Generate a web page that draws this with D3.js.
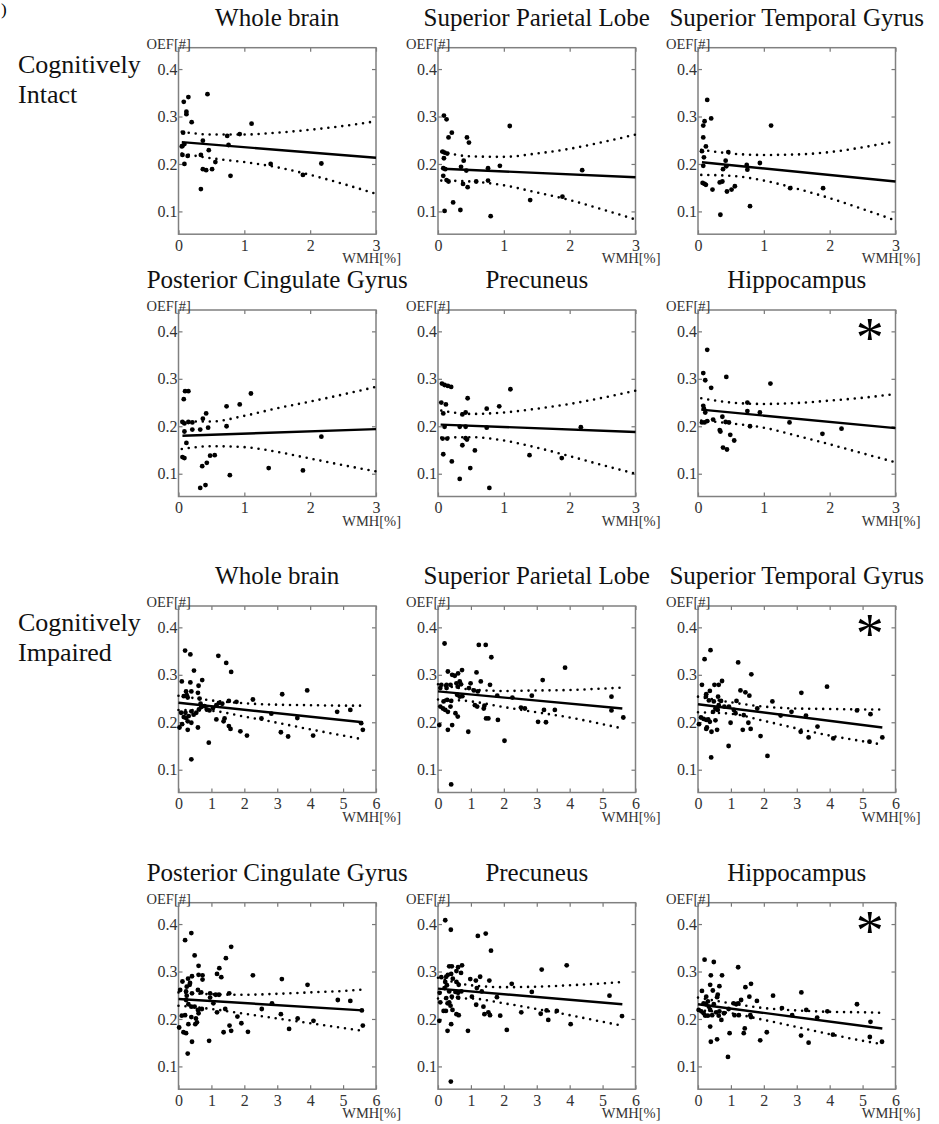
<!DOCTYPE html>
<html>
<head>
<meta charset="utf-8">
<script src="https://cdn.jsdelivr.net/npm/d3@7"></script>
<style>
body { margin: 0; background: #fff; }
text { font-family: "Liberation Serif", "Times New Roman", serif; }
</style>
</head>
<body>
<div id="chart"></div>
<script>
// Region titles, one row of three per block
var titles = ["Whole brain", "Superior Parietal Lobe", "Superior Temporal Gyrus",
              "Posterior Cingulate Gyrus", "Precuneus", "Hippocampus"];
var groups = [["Cognitively", "Intact"], ["Cognitively", "Impaired"]];
var yTicks = [0.1, 0.2, 0.3, 0.4];
var xMax = [3, 6]; // WMH range per group

// Cognitively intact: [WMH %, OEF]
var intactWhole = [[0.08,0.331],[0.15,0.341],[0.12,0.310],[0.12,0.305],[0.20,0.288],[0.44,0.347],[0.07,0.266],[0.06,0.238],[0.09,0.242],[0.05,0.237],[0.06,0.219],[0.14,0.217],[0.09,0.200],[0.37,0.249],[0.34,0.219],[0.46,0.229],[0.37,0.189],[0.42,0.187],[0.51,0.189],[0.56,0.204],[0.34,0.147],[0.74,0.259],[0.76,0.240],[0.79,0.175],[0.93,0.263],[1.11,0.285],[1.40,0.200],[1.89,0.177],[2.17,0.201]];
var intactSPL = [[0.09,0.302],[0.13,0.294],[0.16,0.256],[0.21,0.266],[0.07,0.226],[0.10,0.224],[0.14,0.222],[0.09,0.212],[0.08,0.191],[0.11,0.189],[0.08,0.175],[0.13,0.166],[0.16,0.163],[0.44,0.256],[0.47,0.245],[0.39,0.207],[0.35,0.194],[0.43,0.186],[0.38,0.158],[0.45,0.151],[0.58,0.163],[0.23,0.119],[0.34,0.103],[0.10,0.101],[0.76,0.191],[0.76,0.165],[0.94,0.196],[1.09,0.280],[0.80,0.090],[1.40,0.124],[1.89,0.131],[2.19,0.187]];
var intactSTG = [[0.14,0.335],[0.10,0.290],[0.08,0.281],[0.20,0.296],[0.08,0.256],[0.12,0.237],[0.06,0.227],[0.09,0.214],[0.08,0.196],[0.07,0.160],[0.12,0.156],[0.10,0.158],[0.22,0.146],[0.33,0.161],[0.37,0.163],[0.38,0.189],[0.42,0.207],[0.43,0.195],[0.46,0.225],[0.44,0.142],[0.51,0.146],[0.56,0.153],[0.34,0.093],[0.74,0.198],[0.75,0.188],[0.79,0.111],[0.94,0.202],[1.11,0.281],[1.40,0.149],[1.90,0.149]];
var intactPCG = [[0.08,0.257],[0.10,0.274],[0.15,0.274],[0.06,0.209],[0.09,0.206],[0.15,0.209],[0.21,0.208],[0.09,0.189],[0.21,0.193],[0.33,0.193],[0.37,0.216],[0.42,0.227],[0.45,0.197],[0.12,0.165],[0.06,0.135],[0.09,0.133],[0.48,0.138],[0.55,0.139],[0.36,0.116],[0.43,0.123],[0.33,0.070],[0.41,0.076],[0.73,0.242],[0.73,0.200],[0.93,0.246],[0.78,0.097],[1.10,0.269],[1.37,0.112],[1.89,0.107],[2.17,0.178]];
var intactPrec = [[0.06,0.290],[0.10,0.287],[0.15,0.285],[0.20,0.283],[0.05,0.250],[0.12,0.246],[0.08,0.227],[0.10,0.199],[0.07,0.174],[0.14,0.174],[0.08,0.141],[0.21,0.126],[0.37,0.225],[0.42,0.229],[0.45,0.259],[0.33,0.199],[0.42,0.199],[0.42,0.175],[0.44,0.172],[0.37,0.160],[0.56,0.149],[0.49,0.112],[0.33,0.089],[0.78,0.070],[0.74,0.237],[0.74,0.197],[0.93,0.242],[1.10,0.278],[1.39,0.139],[1.88,0.133],[2.17,0.198]];
var intactHip = [[0.08,0.312],[0.14,0.361],[0.11,0.297],[0.20,0.281],[0.43,0.304],[0.08,0.243],[0.09,0.237],[0.11,0.229],[0.06,0.208],[0.10,0.208],[0.14,0.211],[0.23,0.214],[0.37,0.220],[0.42,0.209],[0.47,0.208],[0.33,0.192],[0.34,0.189],[0.49,0.182],[0.55,0.170],[0.38,0.155],[0.44,0.151],[0.75,0.250],[0.75,0.232],[0.79,0.200],[0.94,0.229],[1.10,0.290],[1.39,0.208],[1.89,0.184],[2.18,0.195]];

// Cognitively impaired: [WMH %, OEF]
var impairedWhole = [[0.20,0.351],[0.36,0.343],[1.21,0.340],[1.45,0.325],[1.60,0.306],[0.47,0.309],[0.10,0.286],[0.36,0.284],[0.72,0.289],[0.23,0.265],[0.39,0.265],[0.61,0.277],[0.25,0.257],[0.59,0.262],[0.64,0.250],[0.16,0.255],[0.28,0.252],[0.08,0.220],[0.16,0.211],[0.23,0.209],[0.31,0.213],[0.39,0.223],[0.46,0.216],[0.54,0.220],[0.62,0.227],[0.69,0.232],[0.67,0.239],[0.79,0.234],[0.86,0.227],[0.94,0.225],[1.05,0.230],[1.15,0.236],[1.23,0.241],[1.33,0.239],[1.53,0.245],[1.76,0.243],[2.26,0.248],[1.15,0.206],[1.37,0.202],[1.40,0.208],[1.53,0.192],[1.58,0.186],[1.88,0.181],[2.08,0.172],[2.52,0.208],[2.82,0.218],[3.15,0.259],[3.11,0.179],[3.33,0.170],[3.61,0.209],[3.91,0.267],[4.09,0.172],[0.03,0.189],[0.28,0.184],[0.39,0.199],[0.28,0.202],[0.59,0.189],[0.92,0.157],[0.39,0.122],[0.11,0.196],[0.21,0.220],[4.82,0.222],[5.22,0.226],[5.55,0.198],[5.60,0.184]];
var impairedSPL = [[0.20,0.366],[1.24,0.363],[1.45,0.363],[1.62,0.337],[1.17,0.305],[0.30,0.307],[0.43,0.300],[0.51,0.298],[0.61,0.303],[0.73,0.310],[0.10,0.279],[0.26,0.279],[0.38,0.279],[0.07,0.272],[0.26,0.272],[0.56,0.282],[0.66,0.286],[0.70,0.280],[0.60,0.275],[0.99,0.282],[1.30,0.286],[1.58,0.279],[0.94,0.272],[1.09,0.267],[1.21,0.265],[0.28,0.247],[0.40,0.245],[0.17,0.244],[0.58,0.258],[0.66,0.254],[0.74,0.255],[0.07,0.233],[0.15,0.229],[0.22,0.226],[0.30,0.222],[0.38,0.233],[0.53,0.219],[0.60,0.212],[1.12,0.236],[1.19,0.233],[1.39,0.229],[1.41,0.235],[1.80,0.256],[2.26,0.252],[2.52,0.231],[2.64,0.229],[2.85,0.256],[3.18,0.289],[3.22,0.226],[3.04,0.201],[3.28,0.200],[3.55,0.226],[3.86,0.315],[0.04,0.194],[0.43,0.194],[0.30,0.184],[0.92,0.180],[1.46,0.208],[1.53,0.208],[1.82,0.205],[2.02,0.161],[0.40,0.069],[5.27,0.254],[5.27,0.225],[5.63,0.210]];
var impairedSTG = [[0.38,0.352],[0.20,0.333],[1.22,0.326],[1.62,0.301],[0.73,0.287],[0.50,0.279],[0.63,0.279],[0.12,0.279],[0.36,0.266],[0.25,0.259],[0.24,0.254],[0.61,0.254],[1.29,0.267],[1.44,0.263],[1.56,0.256],[0.33,0.246],[0.48,0.244],[0.70,0.245],[0.63,0.236],[0.53,0.229],[0.46,0.222],[0.60,0.226],[0.80,0.233],[0.94,0.233],[1.09,0.226],[1.14,0.219],[1.17,0.245],[1.39,0.215],[1.80,0.229],[2.26,0.244],[2.51,0.214],[2.84,0.222],[0.09,0.210],[0.17,0.207],[0.25,0.205],[0.31,0.206],[0.36,0.201],[0.53,0.204],[0.03,0.196],[0.27,0.189],[0.25,0.186],[0.41,0.180],[0.58,0.184],[0.99,0.199],[1.53,0.199],[1.60,0.186],[1.36,0.184],[1.90,0.171],[0.93,0.150],[0.40,0.126],[2.11,0.129],[3.14,0.262],[3.28,0.214],[3.12,0.180],[3.36,0.168],[3.63,0.191],[3.92,0.275],[4.11,0.166],[4.83,0.225],[5.24,0.217],[5.21,0.159],[5.60,0.168]];
var impairedPCG = [[0.39,0.381],[0.20,0.366],[0.49,0.334],[1.60,0.352],[1.44,0.328],[0.61,0.312],[1.24,0.307],[1.17,0.295],[1.30,0.288],[2.26,0.292],[3.14,0.284],[3.92,0.272],[0.12,0.279],[0.29,0.285],[0.41,0.290],[0.61,0.293],[0.73,0.292],[0.73,0.283],[0.35,0.276],[0.25,0.268],[0.34,0.272],[0.05,0.261],[0.23,0.258],[0.59,0.261],[0.69,0.256],[0.25,0.249],[0.41,0.254],[0.96,0.254],[1.13,0.251],[1.23,0.251],[1.54,0.254],[0.96,0.245],[0.23,0.240],[0.30,0.231],[0.39,0.226],[0.49,0.226],[0.59,0.219],[0.71,0.221],[0.61,0.212],[1.06,0.233],[1.17,0.214],[0.10,0.207],[0.20,0.208],[0.39,0.204],[0.53,0.201],[0.56,0.193],[0.51,0.189],[0.30,0.189],[0.02,0.182],[0.15,0.172],[0.23,0.170],[0.41,0.152],[0.28,0.127],[0.93,0.154],[1.37,0.172],[1.42,0.221],[1.55,0.186],[1.60,0.175],[1.79,0.205],[1.91,0.191],[2.11,0.173],[2.53,0.221],[2.84,0.233],[3.11,0.210],[3.36,0.179],[3.62,0.201],[4.10,0.196],[4.84,0.240],[5.22,0.238],[5.57,0.218],[5.60,0.186]];
var impairedPrec = [[0.22,0.408],[0.39,0.388],[1.21,0.375],[1.45,0.380],[1.61,0.344],[0.34,0.311],[0.42,0.311],[0.61,0.309],[0.73,0.313],[0.70,0.297],[0.56,0.301],[0.10,0.288],[0.25,0.289],[0.30,0.293],[0.40,0.295],[0.45,0.285],[0.22,0.278],[0.27,0.271],[0.56,0.278],[0.63,0.272],[0.98,0.284],[1.15,0.281],[1.28,0.289],[1.56,0.281],[2.24,0.274],[2.85,0.257],[3.15,0.304],[3.91,0.313],[0.05,0.255],[0.20,0.265],[0.34,0.258],[0.53,0.257],[0.61,0.255],[0.71,0.258],[0.42,0.247],[0.61,0.245],[1.03,0.247],[1.18,0.265],[1.33,0.258],[0.07,0.235],[0.25,0.244],[0.29,0.233],[0.17,0.217],[0.24,0.217],[0.34,0.235],[0.38,0.228],[0.44,0.219],[0.56,0.210],[0.63,0.208],[1.16,0.230],[1.38,0.226],[1.41,0.210],[1.53,0.214],[1.58,0.208],[1.89,0.207],[2.53,0.214],[1.79,0.246],[2.09,0.177],[0.91,0.175],[0.29,0.175],[0.40,0.189],[0.04,0.196],[0.39,0.068],[3.12,0.211],[3.35,0.198],[3.61,0.217],[3.30,0.218],[4.03,0.189],[5.21,0.249],[5.59,0.206]];
var impairedHip = [[0.20,0.325],[0.48,0.320],[1.22,0.309],[0.39,0.292],[0.73,0.292],[0.12,0.259],[0.37,0.272],[0.45,0.260],[0.65,0.269],[0.60,0.251],[0.58,0.246],[0.25,0.247],[1.44,0.267],[1.61,0.274],[1.56,0.247],[1.79,0.238],[2.28,0.249],[3.14,0.256],[4.83,0.231],[0.02,0.219],[0.10,0.216],[0.17,0.233],[0.24,0.231],[0.30,0.237],[0.33,0.226],[0.17,0.212],[0.22,0.207],[0.30,0.207],[0.37,0.219],[0.43,0.208],[0.48,0.231],[0.55,0.214],[0.63,0.207],[0.65,0.216],[0.71,0.198],[0.79,0.212],[0.93,0.221],[1.08,0.233],[1.16,0.231],[1.22,0.233],[1.11,0.208],[1.24,0.208],[1.31,0.240],[1.59,0.208],[1.61,0.204],[2.55,0.223],[2.86,0.208],[3.29,0.219],[3.62,0.203],[3.93,0.216],[0.37,0.184],[0.58,0.157],[0.39,0.152],[0.96,0.170],[1.39,0.170],[1.42,0.180],[1.89,0.155],[2.09,0.172],[0.91,0.120],[3.13,0.165],[3.36,0.150],[4.10,0.167],[5.24,0.194],[5.22,0.162],[5.59,0.152]];

// Regression line ends [x0, y0, x1, y1]
var fits = [[0.05,0.246,3,0.213],[0.07,0.190,3,0.172],[0.06,0.2035,3,0.163],
            [0.06,0.180,3,0.194],[0.04,0.2035,3,0.188],[0.05,0.235,3,0.196],
            [0,0.241,5.6,0.200],[0,0.265,5.6,0.229],[0,0.238,5.6,0.189],
            [0,0.242,5.6,0.218],[0,0.264,5.6,0.231],[0,0.231,5.6,0.180]];

// Confidence band positions and values
var intactBandX = [0.05, 0.5, 1, 1.5, 2, 2.5, 3];
var impairedBandX = [0, 1, 2, 3, 4, 5, 5.6];
var bandUpper = [[0.268,0.262,0.262,0.266,0.272,0.280,0.290],
                 [0.226,0.216,0.215,0.222,0.232,0.246,0.262],
                 [0.230,0.222,0.219,0.220,0.225,0.235,0.248],
                 [0.210,0.210,0.222,0.238,0.252,0.267,0.283],
                 [0.233,0.226,0.229,0.237,0.247,0.260,0.275],
                 [0.259,0.250,0.247,0.249,0.254,0.260,0.268],
                 [0.256,0.246,0.240,0.237,0.236,0.235,0.235],
                 [0.280,0.269,0.266,0.267,0.268,0.271,0.273],
                 [0.254,0.242,0.233,0.229,0.228,0.227,0.227],
                 [0.256,0.252,0.251,0.253,0.256,0.259,0.262],
                 [0.287,0.271,0.267,0.268,0.271,0.275,0.278],
                 [0.245,0.233,0.223,0.218,0.215,0.214,0.213]];
var bandLower = [[0.222,0.212,0.204,0.193,0.177,0.158,0.137],
                 [0.165,0.163,0.155,0.140,0.124,0.104,0.083],
                 [0.177,0.175,0.165,0.148,0.128,0.105,0.081],
                 [0.152,0.158,0.156,0.146,0.132,0.118,0.105],
                 [0.176,0.177,0.170,0.155,0.137,0.118,0.100],
                 [0.212,0.206,0.197,0.180,0.162,0.143,0.124],
                 [0.226,0.224,0.212,0.199,0.185,0.172,0.164],
                 [0.248,0.244,0.232,0.221,0.210,0.196,0.187],
                 [0.221,0.218,0.203,0.187,0.172,0.160,0.153],
                 [0.228,0.221,0.211,0.201,0.191,0.181,0.175],
                 [0.243,0.243,0.233,0.221,0.208,0.194,0.186],
                 [0.218,0.212,0.198,0.183,0.168,0.154,0.147]];
var significant = [false,false,false,false,false,true,false,false,true,false,false,true];

var points = [intactWhole, intactSPL, intactSTG, intactPCG, intactPrec, intactHip,
              impairedWhole, impairedSPL, impairedSTG, impairedPCG, impairedPrec, impairedHip];

// Layout
var w = 939, h = 1124;
var colLeft = [178.5, 438, 698];
var rowTop = [47.7, 310, 606, 902.7];
var pw = 197.5, ph = 186.5;
var serif = '"Liberation Serif", "Times New Roman", serif';

var svg = d3.select("#chart").append("svg")
    .attr("width", w)
    .attr("height", h);

// cropped panel label in the corner
svg.append("text").attr("x", 1).attr("y", 15).attr("font-size", 17).text(")");

// group labels
groups.forEach(function(lab, i) {
    var t = svg.append("text")
        .attr("font-size", 26)
        .attr("fill", "#111");
    t.append("tspan").attr("x", 18).attr("y", rowTop[i * 2] + 25).text(lab[0]);
    t.append("tspan").attr("x", 18).attr("y", rowTop[i * 2] + 55).text(lab[1]);
});

points.forEach(function(pts, k) {
    var grp = Math.floor(k / 6);
    var row = Math.floor(k / 3);
    var col = k % 3;
    var g = svg.append("g")
        .attr("transform", "translate(" + colLeft[col] + "," + rowTop[row] + ")");

    var x = d3.scaleLinear().domain([0, xMax[grp]]).range([0, pw]);
    var y = d3.scaleLinear().domain([0.052, 0.445]).range([ph, 0]);

    // title
    g.append("text")
        .attr("x", pw / 2)
        .attr("y", -22)
        .attr("text-anchor", "middle")
        .attr("font-size", 25)
        .attr("fill", "#111")
        .text(titles[k % 6]);

    // axes, ticks inward on all sides
    var xt = d3.range(0, xMax[grp] + 1);
    var bottom = g.append("g").attr("transform", "translate(0," + ph + ")")
        .call(d3.axisBottom(x).tickValues(xt).tickSizeInner(-4).tickSizeOuter(0)
            .tickPadding(5).tickFormat(d3.format("d")));
    var top = g.append("g")
        .call(d3.axisTop(x).tickValues(xt).tickSizeInner(-4).tickSizeOuter(0).tickFormat(""));
    var left = g.append("g")
        .call(d3.axisLeft(y).tickValues(yTicks).tickSizeInner(-4).tickSizeOuter(0)
            .tickPadding(1).tickFormat(d3.format(".1f")));
    var right = g.append("g").attr("transform", "translate(" + pw + ",0)")
        .call(d3.axisRight(y).tickValues(yTicks).tickSizeInner(-4).tickSizeOuter(0).tickFormat(""));
    [bottom, top, left, right].forEach(function(a) {
        a.attr("font-family", null).attr("font-size", null);
        a.select(".domain").remove();
        a.selectAll("line").attr("stroke", "#777").attr("stroke-width", 1.2);
        a.selectAll("text")
            .style("font-family", serif)
            .style("font-size", "16px")
            .attr("fill", "#333");
    });

    g.append("rect")
        .attr("width", pw)
        .attr("height", ph)
        .attr("fill", "none")
        .attr("stroke", "#808080")
        .attr("stroke-width", 1.5);

    // axis names
    g.append("text")
        .attr("x", -32)
        .attr("y", 1)
        .attr("font-size", 14.5)
        .attr("fill", "#333")
        .text("OEF[#]");
    g.append("text")
        .attr("x", pw + 25)
        .attr("y", ph + 29)
        .attr("text-anchor", "end")
        .attr("font-size", 14.5)
        .attr("fill", "#333")
        .text("WMH[%]");

    // confidence bands
    var bx = grp === 0 ? intactBandX : impairedBandX;
    var band = d3.line()
        .x(function(d, i) { return x(bx[i]); })
        .y(function(d) { return y(d); })
        .curve(d3.curveMonotoneX);
    [bandUpper[k], bandLower[k]].forEach(function(b) {
        g.append("path")
            .attr("d", band(b))
            .attr("fill", "none")
            .attr("stroke", "#000")
            .attr("stroke-width", 2.6)
            .attr("stroke-linecap", "round")
            .attr("stroke-dasharray", "0 7");
    });

    // regression line
    var f = fits[k];
    g.append("line")
        .attr("x1", x(f[0])).attr("y1", y(f[1]))
        .attr("x2", x(f[2])).attr("y2", y(f[3]))
        .attr("stroke", "#000")
        .attr("stroke-width", 2.4);

    // subjects
    g.selectAll("circle")
        .data(pts)
        .enter()
        .append("circle")
        .attr("cx", function(d) { return x(d[0]); })
        .attr("cy", function(d) { return y(d[1]); })
        .attr("r", 2.4)
        .attr("fill", "#000");

    if (significant[k]) {
        g.append("text")
            .attr("x", x(xMax[grp] * 0.87))
            .attr("y", y(0.4) + 26)
            .attr("text-anchor", "middle")
            .attr("font-size", 56)
            .attr("fill", "#000")
            .text("*");
    }
});
</script>
</body>
</html>
